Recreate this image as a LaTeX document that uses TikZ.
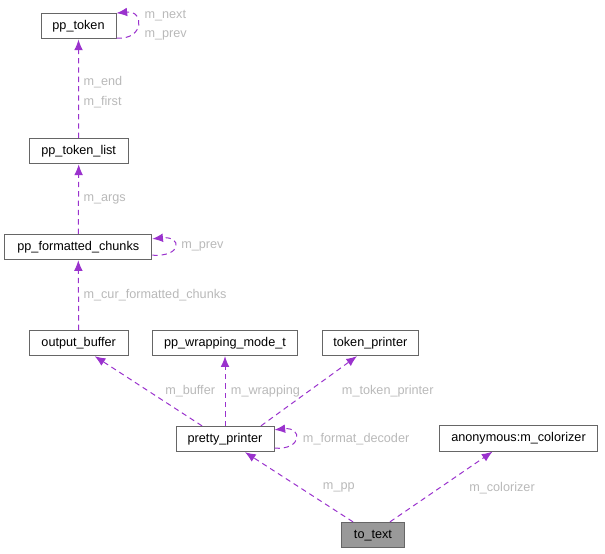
\documentclass[tikz,border=0pt]{standalone}
\usepackage{fontspec}
\setmainfont{Liberation Sans}
\usetikzlibrary{positioning}
\usetikzlibrary{arrows.meta}
\definecolor{edgecol}{RGB}{154,50,205}
\definecolor{lblcol}{RGB}{185,185,185}
\definecolor{boxcol}{RGB}{102,102,102}
\definecolor{curcol}{RGB}{153,153,153}

\begin{document}
\begin{tikzpicture}[x=0.75pt, y=-0.75pt,
	cls/.style={draw=boxcol, fill=white, line width=0.75pt, minimum height=19pt, inner sep=0pt, text height=7pt, text depth=2.5pt, font=\fontsize{9.5}{11}\selectfont},
	edge/.style={draw=edgecol, line width=0.75pt, dash pattern=on 4pt off 3pt, -{Latex[length=8pt,width=6.5pt]}},
	lbl/.style={text=lblcol, anchor=west, inner sep=0pt, font=\fontsize{9.5}{11}\selectfont}]
	\useasboundingbox (0,0) rectangle (605,553);
	
	\node[cls, minimum width=56.25pt] (tok) at (78.5,26.3) {pp\_token};
	\node[cls, minimum width=74.25pt] (list) at (78.7,151.2) {pp\_token\_list};
	\node[cls, minimum width=110.25pt] (chunks) at (78.3,247) {pp\_formatted\_chunks};
	\node[cls, minimum width=74.25pt] (outbuf) at (78.7,343) {output\_buffer};
	\node[cls, minimum width=108.75pt] (wrap) at (225,343) {pp\_wrapping\_mode\_t};
	\node[cls, minimum width=72pt] (tokp) at (370.3,343) {token\_printer};
	\node[cls, minimum width=73.5pt] (pretty) at (225,439) {pretty\_printer};
	\node[cls, minimum width=118.5pt] (anon) at (518.5,438.5) {anonymous:m\_colorizer};
	\node[cls, fill=curcol, minimum width=47.25pt] (totext) at (373,535) {to\_text};
	
	\draw[edge] ([yshift=1pt]tok.south east) .. controls +(28,2) and +(28,-3) .. (tok.north east);
	\draw[edge] (list.north) -- (tok.south);
	\draw[edge] (chunks.north) -- (list.south);
	\draw[edge] ([yshift=3.75pt]chunks.south east) .. controls +(30,2) and +(30,-3) .. ([yshift=-3.75pt]chunks.north east);
	\draw[edge] (outbuf.north) -- (chunks.south);
	\draw[edge] ([xshift=-17.25pt]pretty.north) -- ([xshift=12pt]outbuf.south);
	\draw[edge] (pretty.north) -- (wrap.south);
	\draw[edge] ([xshift=27pt]pretty.north) -- ([xshift=-10pt]tokp.south);
	\draw[edge] ([yshift=3pt]pretty.south east) .. controls +(28,2) and +(28,-3) .. ([yshift=-3pt]pretty.north east);
	\draw[edge] ([xshift=-15pt]totext.north) -- ([xshift=15pt]pretty.south);
	\draw[edge] ([xshift=12.75pt]totext.north) -- ([xshift=-19.5pt]anon.south);
	
	\node[lbl] (lnext) at (144.3,15.7) {m\_next};
	\node[lbl] (lprev) at (144.3,35.3) {m\_prev};
	\node[lbl] (lend) at (83.3,82.3) {m\_end};
	\node[lbl] (lfirst) at (83.3,102.3) {m\_first};
	\node[lbl] (largs) at (83.3,199) {m\_args};
	\node[lbl] (lcprev) at (181,246.7) {m\_prev};
	\node[lbl] (lcur) at (83.3,295) {m\_cur\_formatted\_chunks};
	\node[lbl] (lbuf) at (165,391) {m\_buffer};
	\node[lbl] (lwrap) at (230.7,391) {m\_wrapping};
	\node[lbl] (ltokp) at (341.7,391) {m\_token\_printer};
	\node[lbl] (lfmt) at (302.7,439) {m\_format\_decoder};
	\node[lbl] (lpp) at (322.7,487.7) {m\_pp};
	\node[lbl] (lcol) at (469,487.7) {m\_colorizer};
\end{tikzpicture}
\end{document}
